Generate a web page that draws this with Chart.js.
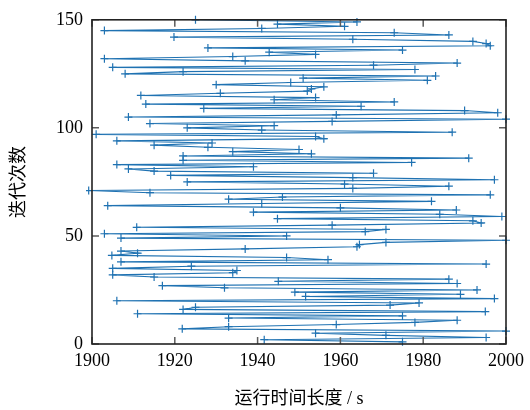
<!DOCTYPE html>
<html>
<head>
<meta charset="utf-8">
<script src="https://cdn.jsdelivr.net/npm/chart.js@4.4.0/dist/chart.umd.min.js"></script>
<style>
  html, body { margin: 0; padding: 0; background: #fff; }
</style>
</head>
<body>
<canvas id="grafico" width="530" height="410"></canvas>
<script>
// 迭代次数 (eixo y)
const iteracoes = [
    1, 2, 3, 4, 5, 6, 7, 8, 9, 10,
    11, 12, 13, 14, 15, 16, 17, 18, 19, 20,
    21, 22, 23, 24, 25, 26, 27, 28, 29, 30,
    31, 32, 33, 34, 35, 36, 37, 38, 39, 40,
    41, 42, 43, 44, 45, 46, 47, 48, 49, 50,
    51, 52, 53, 54, 55, 56, 57, 58, 59, 60,
    61, 62, 63, 64, 65, 66, 67, 68, 69, 70,
    71, 72, 73, 74, 75, 76, 77, 78, 79, 80,
    81, 82, 83, 84, 85, 86, 87, 88, 89, 90,
    91, 92, 93, 94, 95, 96, 97, 98, 99, 100,
    101, 102, 103, 104, 105, 106, 107, 108, 109, 110,
    111, 112, 113, 114, 115, 116, 117, 118, 119, 120,
    121, 122, 123, 124, 125, 126, 127, 128, 129, 130,
    131, 132, 133, 134, 135, 136, 137, 138, 139, 140,
    141, 142, 143, 144, 145, 146, 147, 148, 149, 150
];

// 运行时间长度 / s (eixo x), um valor por iteração
const tempos = [
    1975.0, 1941.6, 1995.2, 1971.0, 1954.0, 2000.0, 1921.8, 1933.0, 1959.0, 1978.0,
    1988.2, 1933.0, 1975.0, 1911.0, 1995.0, 1922.0, 1925.0, 1972.0, 1979.0, 1906.0,
    1997.2, 1951.6, 1989.0, 1949.0, 1993.0, 1932.0, 1917.0, 1988.2, 1945.0, 1986.2,
    1915.0, 1905.0, 1934.0, 1935.0, 1905.0, 1924.0, 1995.2, 1907.0, 1957.0, 1947.0,
    1904.8, 1911.0, 1907.0, 1937.0, 1964.0, 1964.6, 1971.0, 2000.0, 1907.0, 1947.0,
    1903.0, 1966.0, 1971.0, 1910.8, 1958.0, 1994.0, 1992.0, 1944.8, 1999.0, 1984.0,
    1939.0, 1988.0, 1960.0, 1903.8, 1941.0, 1982.0, 1933.0, 1946.0, 1996.2, 1914.0,
    1899.2, 1963.0, 1986.2, 1961.0, 1923.0, 1997.2, 1963.0, 1919.0, 1968.0, 1915.0,
    1908.8, 1939.0, 1906.0, 1977.2, 1922.0, 1991.0, 1922.0, 1953.0, 1934.0, 1950.0,
    1928.0, 1915.0, 1929.0, 1906.0, 1956.0, 1954.0, 1901.0, 1987.0, 1941.0, 1923.0,
    1944.0, 1914.0, 1958.0, 2000.0, 1908.8, 1959.0, 1998.0, 1990.0, 1927.0, 1965.0,
    1913.0, 1973.0, 1944.0, 1954.0, 1911.8, 1931.0, 1952.0, 1953.0, 1956.0, 1930.0,
    1948.0, 1981.0, 1951.0, 1983.0, 1908.0, 1922.0, 1978.0, 1905.0, 1968.0, 1988.2,
    1937.0, 1903.0, 1934.0, 1954.0, 1942.8, 1975.0, 1928.0, 1996.2, 1995.2, 1992.0,
    1963.0, 1919.8, 1986.2, 1973.0, 1903.0, 1941.0, 1961.0, 1944.8, 1964.0, 1925.0
];

const ticksX = [1900, 1920, 1940, 1960, 1980, 2000];
const ticksY = [0, 50, 100, 150];

const pontos = tempos.map((t, i) => ({ x: t, y: iteracoes[i] }));

const fonteNum = { family: "'Liberation Serif', 'Noto Sans CJK SC', serif", size: 18 };

// moldura com ticks para dentro (estilo matplotlib)
const molduraPlugin = {
    id: 'moldura',
    afterDraw(chart) {
        const { ctx, chartArea: a, scales } = chart;
        ctx.save();
        ctx.strokeStyle = '#5c5c5c';
        ctx.lineWidth = 1.5;
        ctx.beginPath();
        ticksX.forEach(v => {
            const px = scales.x.getPixelForValue(v);
            ctx.moveTo(px, a.bottom); ctx.lineTo(px, a.bottom - 7);
            ctx.moveTo(px, a.top); ctx.lineTo(px, a.top + 7);
        });
        ticksY.forEach(v => {
            const py = scales.y.getPixelForValue(v);
            ctx.moveTo(a.left, py); ctx.lineTo(a.left + 7, py);
            ctx.moveTo(a.right, py); ctx.lineTo(a.right - 7, py);
        });
        ctx.stroke();
        ctx.strokeStyle = '#222';
        ctx.lineWidth = 1.6;
        ctx.strokeRect(a.left, a.top, a.right - a.left, a.bottom - a.top);
        ctx.restore();
    }
};

const config = {
    type: 'scatter',
    data: {
        datasets: [{
            data: pontos,
            showLine: true,
            borderColor: '#1f72b2',
            backgroundColor: '#1f72b2',
            borderWidth: 1.1,
            pointStyle: 'cross',
            pointRadius: 4,
            pointBorderWidth: 1.2,
            pointHoverRadius: 4,
            tension: 0,
            clip: 6
        }]
    },
    options: {
        responsive: false,
        animation: false,
        devicePixelRatio: 1,
        layout: { padding: { top: 16, right: 22, left: 0, bottom: 0 } },
        plugins: {
            legend: { display: false },
            tooltip: { enabled: false }
        },
        scales: {
            x: {
                type: 'linear',
                min: 1900,
                max: 2000,
                afterBuildTicks: s => { s.ticks = ticksX.map(v => ({ value: v })); },
                afterFit: s => { s.height = 66; },
                grid: { display: false, drawTicks: false },
                border: { display: false },
                ticks: {
                    font: fonteNum, color: '#000', padding: 6, maxRotation: 0,
                    callback: v => String(v)
                },
                title: {
                    display: true,
                    text: '运行时间长度 / s',
                    font: fonteNum,
                    color: '#000',
                    padding: { top: 0, bottom: 0 }
                }
            },
            y: {
                type: 'linear',
                min: 0,
                max: 150,
                afterBuildTicks: s => { s.ticks = ticksY.map(v => ({ value: v })); },
                afterFit: s => { s.width = 92; },
                grid: { display: false, drawTicks: false },
                border: { display: false },
                ticks: { font: fonteNum, color: '#000', padding: 9, callback: v => String(v) },
                title: {
                    display: true,
                    text: '迭代次数',
                    font: fonteNum,
                    color: '#000',
                    padding: { top: 8, bottom: 0 }
                }
            }
        }
    },
    plugins: [molduraPlugin]
};

const ctx = document.getElementById('grafico').getContext('2d');
new Chart(ctx, config);
</script>
</body>
</html>
